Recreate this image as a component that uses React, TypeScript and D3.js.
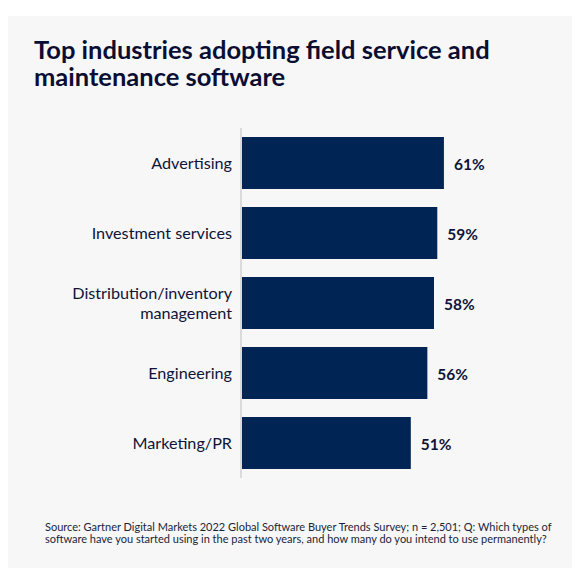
import { useEffect, useRef } from "react";
import * as d3 from "d3";

// Chart data
const categories = [
  "Advertising",
  "Investment services",
  "Distribution/inventory management",
  "Engineering",
  "Marketing/PR",
];
const labelLines = [
  ["Advertising"],
  ["Investment services"],
  ["Distribution/inventory", "management"],
  ["Engineering"],
  ["Marketing/PR"],
];
const values = [61, 59, 58, 56, 51];

const titleLines = [
  "Top industries adopting field service and",
  "maintenance software",
];
const sourceLines = [
  "Source: Gartner Digital Markets 2022 Global Software Buyer Trends Survey; n = 2,501; Q: Which types of",
  "software have you started using in the past two years, and how many do you intend to use permanently?",
];

const FONT = "Lato, 'Noto Sans', sans-serif";
const NAVY = "#002554";
const TEXT = "#0e1438";

const App = () => {
  const svgRef = useRef<SVGSVGElement | null>(null);

  useEffect(() => {
    const width = 579;
    const height = 581;
    const svg = d3.select(svgRef.current);
    svg.selectAll("*").remove();
    svg.attr("width", width).attr("height", height);

    // background panel
    svg
      .append("rect")
      .attr("x", 8)
      .attr("y", 16)
      .attr("width", 564)
      .attr("height", 552)
      .attr("fill", "#f7f7f7");

    // title
    svg
      .append("text")
      .attr("font-family", FONT)
      .attr("font-weight", 700)
      .attr("font-size", 25.5)
      .attr("fill", "#0b0e33")
      .selectAll("tspan")
      .data(titleLines)
      .enter()
      .append("tspan")
      .attr("x", 34)
      .attr("y", (_, i) => 58.5 + i * 27)
      .text((d) => d);

    // scales
    const y = d3
      .scaleBand()
      .domain(categories)
      .range([128, 478])
      .paddingInner(18 / 70)
      .paddingOuter(9 / 70);

    const x = d3.scaleLinear().domain([0, 100]).range([242, 573]);

    // bars
    svg
      .selectAll(".bar")
      .data(values)
      .enter()
      .append("rect")
      .attr("class", "bar")
      .attr("x", x(0))
      .attr("y", (_, i) => y(categories[i]) || 0)
      .attr("width", (d) => x(d) - x(0))
      .attr("height", y.bandwidth())
      .attr("fill", NAVY);

    // axis line
    svg
      .append("line")
      .attr("x1", x(0) - 1)
      .attr("x2", x(0) - 1)
      .attr("y1", y.range()[0])
      .attr("y2", y.range()[1])
      .attr("stroke", "#d2d2d2")
      .attr("stroke-width", 1.5);

    // category labels, one text per line
    labelLines.forEach((lines, i) => {
      const cy = (y(categories[i]) || 0) + y.bandwidth() / 2;
      const lh = 19.5;
      svg
        .selectAll(`.cat-${i}`)
        .data(lines)
        .enter()
        .append("text")
        .attr("class", `cat-${i}`)
        .attr("text-anchor", "end")
        .attr("font-family", FONT)
        .attr("font-size", 16.2)
        .attr("fill", TEXT)
        .attr("x", 232)
        .attr("y", (_, j) => cy + 6 + (j - (lines.length - 1) / 2) * lh)
        .text((d) => d);
    });

    // value labels
    svg
      .selectAll(".val")
      .data(values)
      .enter()
      .append("text")
      .attr("class", "val")
      .attr("x", (d) => x(d) + 10)
      .attr("y", (_, i) => (y(categories[i]) || 0) + y.bandwidth() / 2 + 6.5)
      .attr("font-family", FONT)
      .attr("font-weight", 700)
      .attr("font-size", 15.5)
      .attr("fill", TEXT)
      .text((d) => `${d}%`);

    // source note
    svg
      .append("text")
      .attr("font-family", FONT)
      .attr("font-size", 11)
      .attr("fill", "#1a1f3a")
      .selectAll("tspan")
      .data(sourceLines)
      .enter()
      .append("tspan")
      .attr("x", 45)
      .attr("y", (_, i) => 530.5 + i * 12.2)
      .text((d) => d);
  }, []);

  return (
    <div style={{ position: "absolute", left: 0, top: 0, background: "#fff" }}>
      <svg ref={svgRef} style={{ display: "block" }}></svg>
    </div>
  );
};

export default App;
